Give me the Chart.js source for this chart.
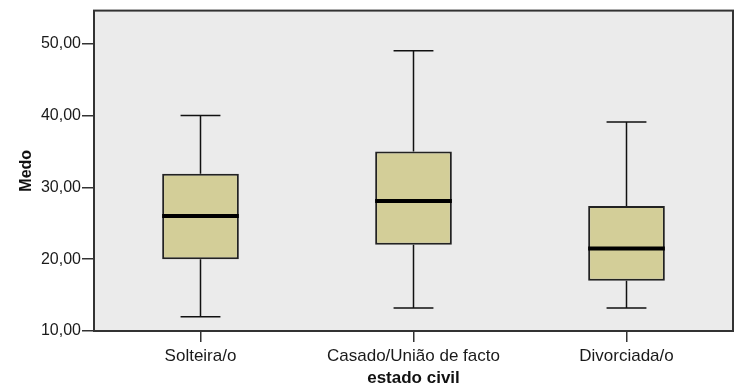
<!DOCTYPE html>
<html>
<head>
<meta charset="utf-8">
<script src="https://cdn.jsdelivr.net/npm/chart.js@4"></script>
<style>
  body { margin: 0; background: #fff; }
  canvas { display: block; }
</style>
</head>
<body>
<canvas id="boxChart" width="734" height="390"></canvas>
<script>
// Medo por estado civil - five-number summaries
var categories = ['Solteira/o', 'Casado/União de facto', 'Divorciada/o'];
var minValues = [12, 13.2, 13.2];
var q1Values = [20, 22, 17];
var medianValues = [26, 28.1, 21.5];
var q3Values = [31.9, 35, 27.4];
var maxValues = [40, 49, 39.1];
var yTicks = [10, 20, 30, 40, 50];

var boxes = categories.map(function (c, i) { return [q1Values[i], q3Values[i]]; });

function fmt(v) {
    return v.toFixed(2).replace('.', ',');
}

// grey panel + frame around the plot area
var panel = {
    id: 'panel',
    beforeDatasetsDraw: function (chart) {
        var a = chart.chartArea, ctx = chart.ctx;
        ctx.save();
        ctx.fillStyle = '#ebebeb';
        ctx.fillRect(a.left, a.top, a.right - a.left, a.bottom - a.top);
        ctx.restore();
    },
    afterDraw: function (chart) {
        var a = chart.chartArea, ctx = chart.ctx;
        ctx.save();
        ctx.strokeStyle = '#333';
        ctx.lineWidth = 2;
        ctx.strokeRect(a.left, a.top, a.right - a.left, a.bottom - a.top);
        ctx.restore();
    }
};

// whiskers, caps and median lines
var whiskers = {
    id: 'whiskers',
    afterDatasetsDraw: function (chart) {
        var ctx = chart.ctx;
        var x = chart.scales.x, y = chart.scales.y;
        var meta = chart.getDatasetMeta(0);
        ctx.save();
        categories.forEach(function (c, i) {
            var cx = x.getPixelForValue(i);
            var bw = meta.data[i].width;
            var cap = bw * 0.26;
            ctx.strokeStyle = '#111';
            ctx.lineWidth = 1.5;
            ctx.beginPath();
            ctx.moveTo(cx, y.getPixelForValue(q3Values[i]));
            ctx.lineTo(cx, y.getPixelForValue(maxValues[i]));
            ctx.moveTo(cx, y.getPixelForValue(q1Values[i]));
            ctx.lineTo(cx, y.getPixelForValue(minValues[i]));
            ctx.moveTo(cx - cap, y.getPixelForValue(maxValues[i]));
            ctx.lineTo(cx + cap, y.getPixelForValue(maxValues[i]));
            ctx.moveTo(cx - cap, y.getPixelForValue(minValues[i]));
            ctx.lineTo(cx + cap, y.getPixelForValue(minValues[i]));
            ctx.stroke();
            ctx.lineWidth = 4;
            ctx.strokeStyle = '#000';
            ctx.beginPath();
            ctx.moveTo(cx - bw / 2, y.getPixelForValue(medianValues[i]));
            ctx.lineTo(cx + bw / 2, y.getPixelForValue(medianValues[i]));
            ctx.stroke();
        });
        ctx.restore();
    }
};

var chart = new Chart(document.getElementById('boxChart'), {
    type: 'bar',
    data: {
        labels: categories,
        datasets: [{
            data: boxes,
            backgroundColor: '#d3ce98',
            borderColor: '#222',
            borderWidth: 2,
            borderSkipped: false,
            categoryPercentage: 1,
            barPercentage: 0.36
        }]
    },
    options: {
        responsive: false,
        animation: false,
        layout: { padding: { top: 10, right: 1, left: 0, bottom: 0 } },
        plugins: {
            legend: { display: false },
            tooltip: { enabled: false }
        },
        scales: {
            x: {
                offset: true,
                grid: { offset: false, drawOnChartArea: false, drawTicks: true, tickLength: 11, color: '#333', lineWidth: 1.5 },
                border: { display: false },
                ticks: { color: '#1a1a1a', padding: 4, font: { family: 'Liberation Sans', size: 17 } },
                title: {
                    display: true,
                    text: 'estado civil',
                    color: '#111',
                    padding: { top: 0, bottom: 1 },
                    font: { family: 'Liberation Sans', size: 17, weight: 'bold' }
                },
                afterFit: function (scale) { scale.height = 59; }
            },
            y: {
                min: 10,
                max: 54.6,
                afterBuildTicks: function (scale) {
                    scale.ticks = yTicks.map(function (v) { return { value: v }; });
                },
                grid: { drawOnChartArea: false, drawTicks: true, tickLength: 12, color: '#333', lineWidth: 1.5 },
                border: { display: false },
                ticks: {
                    color: '#1a1a1a',
                    padding: 1,
                    font: { family: 'Liberation Sans', size: 16 },
                    callback: function (v) { return fmt(v); }
                },
                title: {
                    display: true,
                    text: 'Medo',
                    color: '#111',
                    padding: { top: 17, bottom: 0 },
                    font: { family: 'Liberation Sans', size: 16, weight: 'bold' }
                },
                afterFit: function (scale) { scale.width = 94; }
            }
        }
    },
    plugins: [panel, whiskers]
});
</script>
</body>
</html>
